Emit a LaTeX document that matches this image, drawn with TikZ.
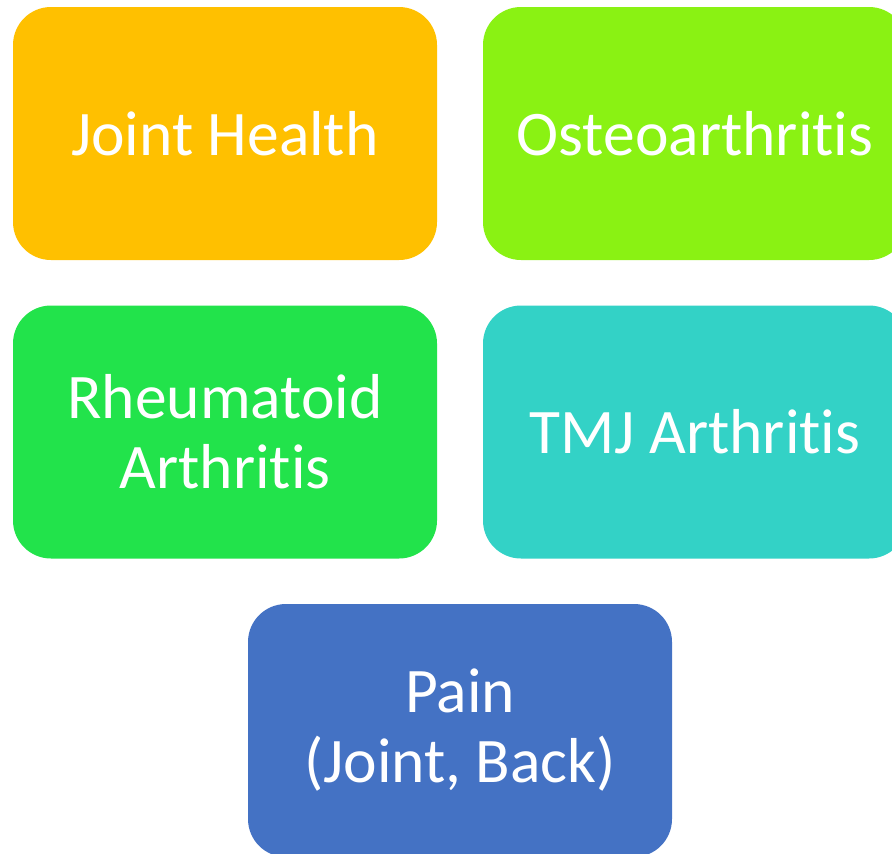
\documentclass[tikz,border=0pt]{standalone}
\usepackage{fontspec}
\setmainfont{Carlito}[Ligatures=NoCommon]
\usepackage{tikz}
\usetikzlibrary{positioning}

\definecolor{tileGold}{HTML}{FFC000}
\definecolor{tileLime}{HTML}{8AF213}
\definecolor{tileGreen}{HTML}{22E34B}
\definecolor{tileTeal}{HTML}{33D2C6}
\definecolor{tileBlue}{HTML}{4472C4}

\begin{document}
\begin{tikzpicture}[
  x=1pt, y=-1pt,
  tile/.style={
    rounded corners=38pt,
    minimum width=424pt,
    minimum height=253pt,
    inner sep=0pt,
    align=center,
    text=white,
    font=\fontsize{63.5}{70}\selectfont,
  },
  ]

  % Parameters
  \def\Wd{892}
  \def\Ht{854}
  \def\Xl{225}
  \def\Xr{695}
  \def\Xm{460}

  % Frame of the page
  \useasboundingbox (0, 0) rectangle (\Wd, \Ht);
  \clip (0, 0) rectangle (\Wd, \Ht);

  % Top row
  \node[tile, fill=tileGold] (joint) at (\Xl, 133.5) {Joint Health};
  \node[tile, fill=tileLime] (osteo) at (\Xr, 133.5) {Osteoarthritis};

  % Middle row
  \node[tile, fill=tileGreen] (rheuma) at (\Xl, 432) {Rheumatoid\\Arthritis};
  \node[tile, fill=tileTeal] (tmj) at (\Xr, 432) {TMJ Arthritis};

  % Bottom box
  \node[tile, fill=tileBlue] (pain) at (\Xm, 730.5) {Pain\\(Joint, Back)};

\end{tikzpicture}
\end{document}
